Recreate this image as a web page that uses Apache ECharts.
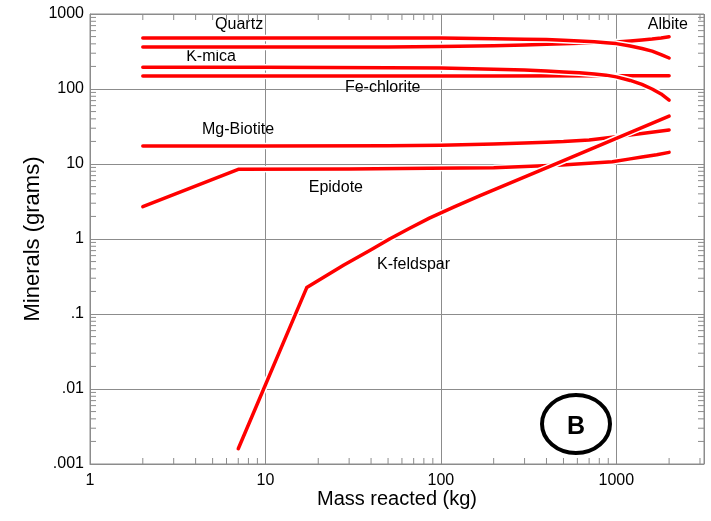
<!DOCTYPE html>
<html>
<head>
<meta charset="utf-8">
<script src="https://cdn.jsdelivr.net/npm/echarts@6/dist/echarts.min.js"></script>
<style>
  html, body { margin: 0; padding: 0; background: #ffffff; }
  #chart { width: 711px; height: 521px; }
</style>
</head>
<body>
<div id="chart"></div>
<script>
// Mass of rock reacted (kg) and mineral mass (grams) along the reaction path
const quartzMass   = [2, 10, 50, 100, 200, 300, 400, 500, 615, 750, 875, 1000, 1200, 1400, 1600, 1800, 2000];
const quartzGrams  = [479, 479, 478, 477, 466, 461, 456, 448, 437, 425, 414, 403, 374, 347, 320, 288, 259];

const albiteMass   = [2, 10, 50, 100, 200, 300, 400, 500, 615, 750, 875, 1000, 1200, 1400, 1600, 1800, 2000];
const albiteGrams  = [363, 363, 364, 368, 378, 386, 394, 401, 407, 411, 414, 424, 437, 450, 464, 480, 498];

const kmicaMass    = [2, 10, 50, 100, 200, 300, 400, 500, 615, 750, 875, 1000, 1200, 1400, 1600, 1800, 2000];
const kmicaGrams   = [195, 195, 192, 190, 184, 179, 174, 169, 165, 158, 153, 145, 130, 115, 100, 86, 71];

const chloriteMass  = [2, 20, 200, 1000, 2000];
const chloriteGrams = [149, 149, 149, 150, 150];

const biotiteMass  = [2, 10, 50, 100, 200, 300, 400, 500, 700, 850, 1000, 1400, 2000];
const biotiteGrams = [17.4, 17.4, 17.5, 17.8, 18.5, 19.0, 19.5, 19.9, 20.9, 22.0, 23.1, 25.5, 28.4];

const epidoteMass  = [2, 7, 30, 86, 200, 490, 950, 1200, 1400, 1700, 2000];
const epidoteGrams = [2.70, 8.5, 8.6, 8.8, 8.9, 9.7, 10.7, 11.7, 12.4, 13.3, 14.3];

const kfsMass      = [7, 17.2, 28, 40, 51, 66, 86, 120, 166, 415, 1000, 2000];
const kfsGrams     = [0.0016, 0.225, 0.45, 0.72, 1.0, 1.38, 1.9, 2.7, 3.75, 9.2, 22, 43.5];

// Curve labels and where their text sits (data units: kg, grams)
const labelNames   = ['Quartz', 'Albite', 'K-mica', 'Fe-chlorite', 'Mg-Biotite', 'Epidote', 'K-feldspar'];
const labelAnchors = [[7.08, 713], [1968, 713], [4.9, 267], [46.6, 106], [6.98, 28.8], [25.2, 4.79], [69.9, 0.45]];

// Axis ranges and decade tick labels
const X_MIN = 1, X_MAX = 3162;
const Y_MIN = 0.001, Y_MAX = 1000;
const xTickLabels = ['1', '10', '100', '1000'];
const yTickLabels = ['.001', '.01', '.1', '1', '10', '100', '1000'];

const GRID_COLOR = '#8c8c8c';
const LINE_RED = '#ff0000';
const FONT = '"Liberation Sans", Arial, sans-serif';

function decadeIndex(v, min) {
  const lg = Math.log10(v);
  const e = Math.round(lg);
  if (Math.abs(lg - e) > 1e-6) return -1;
  return e - Math.round(Math.log10(min));
}

// Log minor tick positions (2..9 in every decade inside the range)
function minorTicks(min, max) {
  const out = [];
  for (let e = Math.floor(Math.log10(min)); e <= Math.ceil(Math.log10(max)); e++) {
    for (let m = 2; m <= 9; m++) {
      const v = m * Math.pow(10, e);
      if (v > min && v < max) out.push(v);
    }
  }
  return out;
}

const series = [];
// drawing order: later curves sit on top of earlier ones
const curves = [
  ['Fe-chlorite', chloriteMass, chloriteGrams],
  ['K-mica', kmicaMass, kmicaGrams],
  ['Albite', albiteMass, albiteGrams],
  ['Quartz', quartzMass, quartzGrams],
  ['Epidote', epidoteMass, epidoteGrams],
  ['Mg-Biotite', biotiteMass, biotiteGrams],
  ['K-feldspar', kfsMass, kfsGrams]
];

curves.forEach(([name, xs, ys], k) => {
  const li = labelNames.indexOf(name);
  const pts = xs.map((x, i) => [x, ys[i]]);
  // white casing under each curve so crossings read cleanly
  series.push({
    type: 'line',
    data: pts,
    showSymbol: false,
    lineStyle: { color: '#ffffff', width: 6.5, join: 'round', cap: 'round' },
    z: 5 + k * 2,
    silent: true
  });
  series.push({
    name: name,
    type: 'line',
    data: pts,
    showSymbol: false,
    lineStyle: { color: LINE_RED, width: 3.5, join: 'round', cap: 'round' },
    z: 6 + k * 2,
    silent: true,
    markPoint: {
      symbol: 'circle',
      symbolSize: 0,
      silent: true,
      data: [{ coord: labelAnchors[li], name: name }],
      label: {
        show: true,
        position: 'inside',
        formatter: name,
        color: '#000',
        fontSize: 16,
        fontFamily: FONT
      }
    }
  });
});

// Minor ticks along the bottom and top edges
series.push({
  type: 'custom',
  silent: true,
  z: 3,
  data: minorTicks(X_MIN, X_MAX).map(v => [v, Y_MIN]),
  encode: { x: 0, y: 1 },
  renderItem(params, api) {
    const v = api.value(0);
    const b = api.coord([v, Y_MIN]);
    const t = api.coord([v, Y_MAX]);
    const st = { stroke: GRID_COLOR, lineWidth: 1 };
    return {
      type: 'group',
      children: [
        { type: 'line', shape: { x1: b[0], y1: b[1], x2: b[0], y2: b[1] - 6 }, style: st },
        { type: 'line', shape: { x1: t[0], y1: t[1], x2: t[0], y2: t[1] + 6 }, style: st }
      ]
    };
  }
});

// Minor ticks along the left and right edges
series.push({
  type: 'custom',
  silent: true,
  z: 3,
  data: minorTicks(Y_MIN, Y_MAX).map(v => [X_MIN, v]),
  encode: { x: 0, y: 1 },
  renderItem(params, api) {
    const v = api.value(1);
    const l = api.coord([X_MIN, v]);
    const r = api.coord([X_MAX, v]);
    const st = { stroke: GRID_COLOR, lineWidth: 1 };
    return {
      type: 'group',
      children: [
        { type: 'line', shape: { x1: l[0], y1: l[1], x2: l[0] + 6, y2: l[1] }, style: st },
        { type: 'line', shape: { x1: r[0], y1: r[1], x2: r[0] - 6, y2: r[1] }, style: st }
      ]
    };
  }
});

const chart = echarts.init(document.getElementById('chart'), null, { renderer: 'canvas' });
chart.setOption({
  animation: false,
  backgroundColor: '#ffffff',
  grid: {
    left: 90, right: 7, top: 14, bottom: 57,
    show: true, borderColor: GRID_COLOR, borderWidth: 1
  },
  xAxis: {
    type: 'log',
    logBase: 10,
    min: X_MIN,
    max: X_MAX,
    name: 'Mass reacted (kg)',
    nameLocation: 'middle',
    nameGap: 25,
    nameMoveOverlap: false,
    nameTextStyle: { color: '#000', fontSize: 20, fontFamily: FONT },
    axisLine: { show: true, lineStyle: { color: GRID_COLOR } },
    axisTick: { show: true, inside: true, length: 6, lineStyle: { color: GRID_COLOR } },
    axisLabel: {
      color: '#000', fontSize: 16, fontFamily: FONT, margin: 9,
      formatter: v => { const i = decadeIndex(v, X_MIN); return i >= 0 && i < xTickLabels.length ? xTickLabels[i] : ''; }
    },
    splitLine: { show: true, lineStyle: { color: GRID_COLOR, width: 1 } }
  },
  yAxis: {
    type: 'log',
    logBase: 10,
    min: Y_MIN,
    max: Y_MAX,
    name: 'Minerals (grams)',
    nameLocation: 'middle',
    nameGap: 46,
    nameMoveOverlap: false,
    nameTextStyle: { color: '#000', fontSize: 22, fontFamily: FONT },
    axisLine: { show: true, lineStyle: { color: GRID_COLOR } },
    axisTick: { show: true, inside: true, length: 6, lineStyle: { color: GRID_COLOR } },
    axisLabel: {
      color: '#000', fontSize: 16, fontFamily: FONT, margin: 6,
      formatter: v => { const i = decadeIndex(v, Y_MIN); return i >= 0 && i < yTickLabels.length ? yTickLabels[i] : ''; }
    },
    splitLine: { show: true, lineStyle: { color: GRID_COLOR, width: 1 } }
  },
  series: series,
  graphic: [
    {
      type: 'ellipse',
      shape: { cx: 576, cy: 424, rx: 34, ry: 29 },
      style: { fill: 'none', stroke: '#000', lineWidth: 4 },
      z: 100
    },
    {
      type: 'text',
      x: 576, y: 427,
      style: {
        text: 'B',
        font: 'bold 25px "Liberation Sans", Arial, sans-serif',
        fill: '#000',
        textAlign: 'center',
        textVerticalAlign: 'middle'
      },
      z: 100
    }
  ]
});
</script>
</body>
</html>
